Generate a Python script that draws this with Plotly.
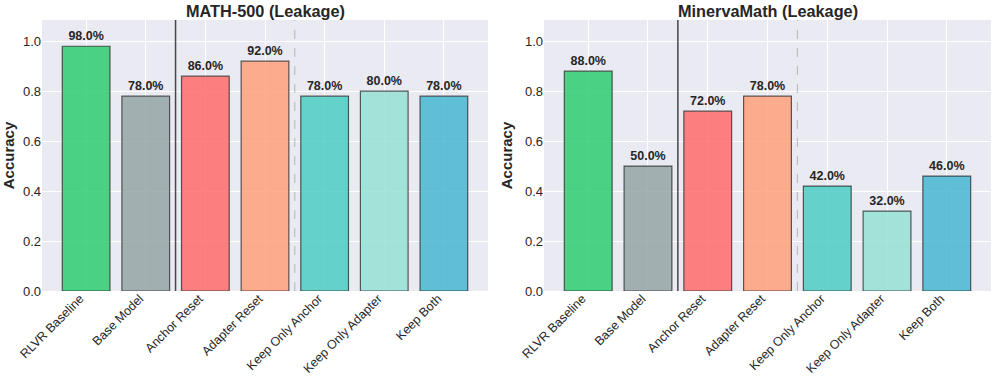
import plotly.graph_objects as go

categories = ["RLVR Baseline", "Base Model", "Anchor Reset", "Adapter Reset",
              "Keep Only Anchor", "Keep Only Adapter", "Keep Both"]
math500_acc = [0.98, 0.78, 0.86, 0.92, 0.78, 0.80, 0.78]
minerva_acc = [0.88, 0.50, 0.72, 0.78, 0.42, 0.32, 0.46]
titles = ["MATH-500 (Leakage)", "MinervaMath (Leakage)"]
bar_colors = ["rgba(46,204,113,0.85)", "rgba(149,165,166,0.85)", "rgba(255,107,107,0.85)",
              "rgba(255,160,122,0.85)", "rgba(78,205,196,0.85)", "rgba(149,225,211,0.85)",
              "rgba(69,183,209,0.85)"]
yticks = [0.0, 0.2, 0.4, 0.6, 0.8, 1.0]

FONT = "Liberation Sans, Arial, sans-serif"
TXT = "#262626"
W, H = 996, 383
ML, MR, MT, MB = 42, 5, 20, 92
pw = W - ML - MR
dom_left = [0, (488 - ML) / pw]
dom_right = [(544 - ML) / pw, 1]

fig = go.Figure()
for k, vals in enumerate([math500_acc, minerva_acc]):
    xa = "x" if k == 0 else "x2"
    ya = "y" if k == 0 else "y2"
    fig.add_trace(go.Bar(
        x=list(range(len(categories))), y=vals, xaxis=xa, yaxis=ya,
        marker=dict(color=bar_colors, line=dict(color="rgba(40,40,40,0.75)", width=1.2)),
        width=0.8,
        text=[f"{v*100:.1f}%" for v in vals], textposition="outside",
        textfont=dict(family=FONT, size=12.5, color=TXT, weight="bold"),
        cliponaxis=False, showlegend=False, hoverinfo="skip",
    ))
    # separators
    fig.add_shape(type="line", xref=xa, yref=f"{ya} domain", x0=1.5, x1=1.5, y0=0, y1=1,
                  line=dict(color="rgba(0,0,0,0.7)", width=1.5), layer="above")
    fig.add_shape(type="line", xref=xa, yref=f"{ya} domain", x0=3.5, x1=3.5, y0=0, y1=1,
                  line=dict(color="rgba(128,128,128,0.5)", width=1, dash="dash"), layer="above")

axis_common = dict(
    gridcolor="white", gridwidth=1, showline=False, zeroline=False, ticks="",
)
for k in range(2):
    sfx = "" if k == 0 else "2"
    dom = dom_left if k == 0 else dom_right
    fig.layout[f"xaxis{sfx}"] = dict(
        axis_common, domain=dom, range=[-0.74, 6.74], anchor=f"y{sfx}",
        tickfont=dict(family=FONT, size=12.5, color=TXT),
        tickmode="array", tickvals=list(range(len(categories))), ticktext=categories,
        tickangle=-45, automargin=False, ticklabelshift=-6, ticklabelstandoff=-3,
    )
    fig.layout[f"yaxis{sfx}"] = dict(
        axis_common, domain=[0, 1], range=[0, 1.085], anchor=f"x{sfx}",
        tickfont=dict(family=FONT, size=13, color=TXT),
        tickmode="array", tickvals=yticks, ticktext=[f"{t:.1f}" for t in yticks],
        title=dict(text="<b>Accuracy</b>", font=dict(family=FONT, size=15, color=TXT), standoff=8),
        automargin=False,
    )
    fig.add_annotation(
        text=f"<b>{titles[k]}</b>", xref="paper", yref="paper",
        x=(dom[0] + dom[1]) / 2, y=1, yanchor="bottom", xanchor="center", yshift=-2,
        showarrow=False, font=dict(family=FONT, size=16.3, color=TXT),
    )

fig.update_layout(
    width=W, height=H, margin=dict(l=ML, r=MR, t=MT, b=MB),
    paper_bgcolor="white", plot_bgcolor="#EAEAF2",
    bargap=0.2,
)
fig.write_html("out.html", config={"displayModeBar": False},
               post_script="document.body.style.margin='0';document.body.style.overflow='hidden';")
